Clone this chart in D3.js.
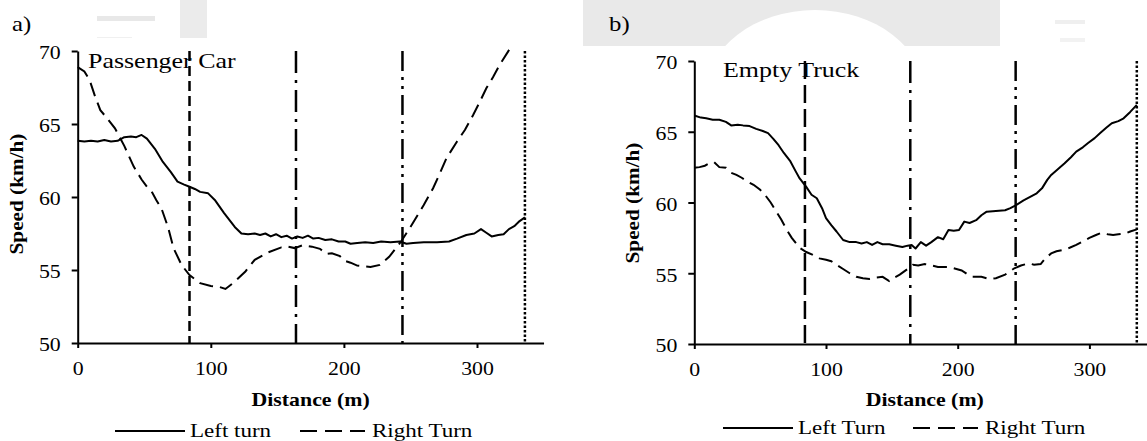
<!DOCTYPE html>
<html>
<head>
<meta charset="utf-8">
<script src="https://cdn.jsdelivr.net/npm/d3@7"></script>
<style>
  body { margin: 0; background: #fff; }
  svg { display: block; font-family: "Liberation Serif", "Times New Roman", serif; }
</style>
</head>
<body>
<script>
// speed profiles: [distance (m), speed (km/h)]
var carLeft = [[0,63.85],[5,63.8],[10,63.85],[15,63.8],[20,63.9],[25,63.8],[30,63.85],[35,64.1],[40,64.15],[44,64.1],[48,64.25],[52,64.0],
  [58,63.3],[64,62.4],[70,61.7],[75,61.05],[80,60.85],[84,60.7],[88,60.55],[92,60.35],[98,60.25],[103,59.8],[110,58.9],[118,57.95],
  [123,57.5],[128,57.45],[133,57.5],[137,57.4],[141,57.5],[145,57.3],[149,57.45],[153,57.25],[157,57.35],[161,57.15],[165,57.3],
  [169,57.2],[173,57.35],[177,57.15],[181,57.2],[186,57.05],[191,57.1],[196,56.95],[201,56.95],[205,56.8],[210,56.85],[216,56.9],
  [222,56.85],[228,56.95],[235,56.9],[242,56.95],[247,56.8],[252,56.85],[260,56.9],[270,56.9],[279,56.95],[285,57.15],[292,57.4],
  [298,57.5],[303,57.8],[307,57.55],[311,57.3],[316,57.4],[320,57.45],[324,57.8],[328,58.0],[332,58.35],[336,58.6]];
var carRight = [[0,68.9],[5,68.6],[9,68.0],[13,66.9],[17,65.95],[22,65.4],[28,64.7],[35,63.5],[42,62.1],[48,61.2],[52,60.7],[56,60.3],
  [59,59.8],[63,59.2],[68,57.9],[72,56.5],[78,55.35],[84,54.65],[92,54.1],[100,53.9],[106,53.85],[111,53.7],[118,54.2],[126,54.9],
  [133,55.7],[143,56.2],[153,56.55],[158,56.6],[163,56.5],[169,56.7],[176,56.6],[182,56.45],[187,56.1],[191,56.15],[197,55.95],
  [200,55.65],[205,55.5],[210,55.3],[215,55.25],[220,55.2],[227,55.35],[234,55.9],[243,56.95],[250,57.95],[260,59.45],[267,60.6],
  [272,61.6],[277,62.65],[285,63.8],[291,64.6],[297,65.6],[302,66.5],[307,67.45],[312,68.2],[317,69.05],[325,70.2]];
var truckLeft = [[0,66.15],[5,66.0],[9,65.95],[14,65.85],[19,65.85],[24,65.7],[28,65.45],[33,65.5],[37,65.45],[42,65.4],[47,65.2],
  [52,65.05],[56,64.9],[60,64.5],[64,64.05],[68,63.5],[73,62.9],[77,62.2],[80,61.7],[85,61.1],[89,60.55],[93,60.3],[97,59.6],
  [100,58.9],[104,58.4],[108,57.95],[113,57.35],[118,57.2],[123,57.2],[127,57.1],[131,57.2],[135,57.0],[139,57.2],[143,57.05],
  [148,57.05],[153,56.95],[158,56.85],[162,56.95],[165,57.0],[168,56.75],[172,57.2],[176,56.95],[180,57.2],[185,57.55],[189,57.4],
  [193,58.05],[197,58.0],[201,58.05],[205,58.65],[209,58.55],[214,58.75],[218,59.1],[222,59.35],[229,59.4],[236,59.45],[240,59.6],
  [244,59.8],[250,60.15],[255,60.4],[260,60.65],[264,61.0],[268,61.6],[271,61.95],[276,62.35],[281,62.75],[286,63.2],[290,63.6],
  [295,63.9],[299,64.2],[304,64.55],[308,64.9],[313,65.3],[317,65.6],[322,65.75],[326,65.95],[331,66.4],[336,66.9]];
var truckRight = [[0,62.45],[4,62.5],[8,62.6],[12,62.8],[15,62.85],[19,62.5],[24,62.45],[28,62.1],[32,61.95],[36,61.75],[40,61.5],
  [45,61.25],[50,60.9],[54,60.5],[58,60.0],[62,59.4],[66,58.8],[70,58.1],[74,57.5],[80,56.8],[85,56.5],[90,56.3],[95,56.05],
  [100,55.95],[104,55.85],[108,55.6],[113,55.3],[118,55.0],[123,54.75],[128,54.65],[133,54.6],[138,54.7],[143,54.75],[148,54.45],
  [152,54.7],[156,54.9],[162,55.3],[166,55.6],[170,55.55],[175,55.65],[180,55.55],[185,55.45],[192,55.45],[197,55.35],[203,55.2],
  [207,54.95],[211,54.75],[218,54.75],[224,54.6],[229,54.65],[236,54.9],[243,55.35],[248,55.55],[254,55.7],[258,55.6],[263,55.65],
  [267,56.1],[271,56.4],[275,56.55],[280,56.65],[285,56.8],[290,57.0],[295,57.25],[300,57.5],[305,57.7],[309,57.85],[314,57.75],
  [318,57.7],[322,57.75],[327,57.8],[331,57.95],[336,58.1]];

// marker positions along the route (m)
var markers = [84, 164, 244, 336];
var yTicks = [50, 55, 60, 65, 70];
var xTicks = [0, 100, 200, 300];

var W = 1147, H = 441;
var SX = 1.18;   // the source type is wide, stretch text horizontally

var svg = d3.select("body").append("svg")
  .attr("width", W).attr("height", H);

// faint scan residue above the panels
var bg = svg.append("g");
bg.append("rect").attr("x", 180).attr("y", 0).attr("width", 27).attr("height", 38).attr("fill", "#ebebeb");
bg.append("rect").attr("x", 97).attr("y", 16).attr("width", 58).attr("height", 5).attr("fill", "#e8e8e8");
bg.append("rect").attr("x", 97).attr("y", 37).attr("width", 35).attr("height", 3).attr("fill", "#f0f0f0");
bg.append("rect").attr("x", 583).attr("y", 0).attr("width", 417).attr("height", 46).attr("fill", "#e9e9e9");
bg.append("ellipse").attr("cx", 815).attr("cy", 95).attr("rx", 110).attr("ry", 85).attr("fill", "#fff");
bg.append("rect").attr("x", 1055).attr("y", 20).attr("width", 30).attr("height", 4).attr("fill", "#efefef");
bg.append("rect").attr("x", 1060).attr("y", 38).attr("width", 25).attr("height", 4).attr("fill", "#f2f2f2");
bg.append("rect").attr("x", 0).attr("y", 38).attr("width", 580).attr("height", H - 38).attr("fill", "#fff");
bg.append("rect").attr("x", 588).attr("y", 46).attr("width", W - 588).attr("height", H - 46).attr("fill", "#fff");

function stretch(sel) {
  sel.each(function() {
    var t = d3.select(this);
    var x = +t.attr("x") || 0, y = +t.attr("y") || 0;
    t.attr("transform", "translate(" + x + "," + y + ") scale(" + SX + ",1) translate(" + (-x) + "," + (-y) + ")");
  });
}

function addText(g, x, y, str, size, opts) {
  opts = opts || {};
  var t = g.append("text")
    .attr("x", x).attr("y", y)
    .attr("font-size", size)
    .attr("font-weight", opts.bold ? "bold" : null)
    .attr("text-anchor", opts.anchor || "start")
    .attr("fill", "#000")
    .text(str);
  stretch(t);
  return t;
}

var markerDash = [null, "22,7,3,7", "20,6,3,6,3,6", "2.5,2"];

function panel(p) {
  var g = svg.append("g");
  var x = d3.scaleLinear().domain([0, 350]).range([p.x0, p.x0 + 350 * p.kx]);
  var y = d3.scaleLinear().domain([50, 70]).range([p.y50, p.y70]);

  // vertical reference lines
  markers.forEach(function(m, i) {
    g.append("line")
      .attr("x1", x(m)).attr("x2", x(m))
      .attr("y1", y(70)).attr("y2", y(50))
      .attr("stroke", "#000").attr("stroke-width", 2.5)
      .attr("stroke-dasharray", i == 0 ? p.firstDash : markerDash[i]);
  });

  var line = d3.line().x(d => x(d[0])).y(d => y(d[1]));
  g.append("path").datum(p.left).attr("d", line)
    .attr("fill", "none").attr("stroke", "#000").attr("stroke-width", 2).attr("stroke-linejoin", "round");
  g.append("path").datum(p.right).attr("d", line)
    .attr("fill", "none").attr("stroke", "#000").attr("stroke-width", 2).attr("stroke-dasharray", "14,7");

  var ya = g.append("g").attr("transform", "translate(" + p.x0 + ",0)")
    .call(d3.axisLeft(y).tickValues(yTicks).tickSize(6).tickSizeOuter(0).tickPadding(11));
  var xa = g.append("g").attr("transform", "translate(0," + p.y50 + ")")
    .call(d3.axisBottom(x).tickValues(xTicks).tickSize(5).tickSizeOuter(0).tickPadding(14));
  [ya, xa].forEach(function(a) {
    a.select(".domain").attr("stroke", "#000").attr("stroke-width", 2);
    a.selectAll(".tick line").attr("stroke", "#000").attr("stroke-width", 2);
    a.selectAll(".tick text").attr("font-size", 18.5).attr("fill", "#000")
      .attr("font-family", "Liberation Serif, Times New Roman, serif");
  });
  ya.selectAll(".tick text").attr("dy", "0.42em");
  stretch(ya.selectAll(".tick text"));
  stretch(xa.selectAll(".tick text"));

  // title inside plot
  addText(g, p.titleX, p.titleY, p.title, 22);
  // panel letter
  addText(g, p.letterX, 31, p.letter, 21);

  // axis titles
  addText(g, (x.range()[0] + x.range()[1]) / 2, 406, "Distance (m)", 18.5, {bold: true, anchor: "middle"});
  g.append("text")
    .attr("transform", "translate(" + p.ylabX + "," + p.ylabY + ") rotate(-90) scale(" + SX + ",1)")
    .attr("text-anchor", "middle").attr("font-size", 18).attr("font-weight", "bold").attr("fill", "#000")
    .text("Speed (km/h)");

  // legend
  var L = p.legend;
  g.append("line").attr("x1", L.x1).attr("x2", L.x1 + 70).attr("y1", L.y).attr("y2", L.y)
    .attr("stroke", "#000").attr("stroke-width", 2);
  addText(g, L.x1 + 75, L.y + 6, L.leftLabel, 19.5);
  g.append("line").attr("x1", L.x2).attr("x2", L.x2 + 65).attr("y1", L.y).attr("y2", L.y)
    .attr("stroke", "#000").attr("stroke-width", 2).attr("stroke-dasharray", "17,8");
  addText(g, L.x2 + 72, L.y + 6, "Right Turn", 19.5);
}

panel({
  x0: 77.7, kx: 1.331, y50: 343, y70: 51,
  left: carLeft, right: carRight,
  firstDash: "10,5",
  title: "Passenger Car", titleX: 88, titleY: 68,
  letter: "a)", letterX: 12,
  ylabX: 23, ylabY: 194,
  legend: {x1: 115, x2: 300, y: 431, leftLabel: "Left turn"}
});

panel({
  x0: 694.3, kx: 1.317, y50: 344, y70: 61,
  left: truckLeft, right: truckRight,
  firstDash: "18,6",
  title: "Empty Truck", titleX: 723, titleY: 77,
  letter: "b)", letterX: 609,
  ylabX: 639, ylabY: 203,
  legend: {x1: 723, x2: 913, y: 428, leftLabel: "Left Turn"}
});
</script>
</body>
</html>
